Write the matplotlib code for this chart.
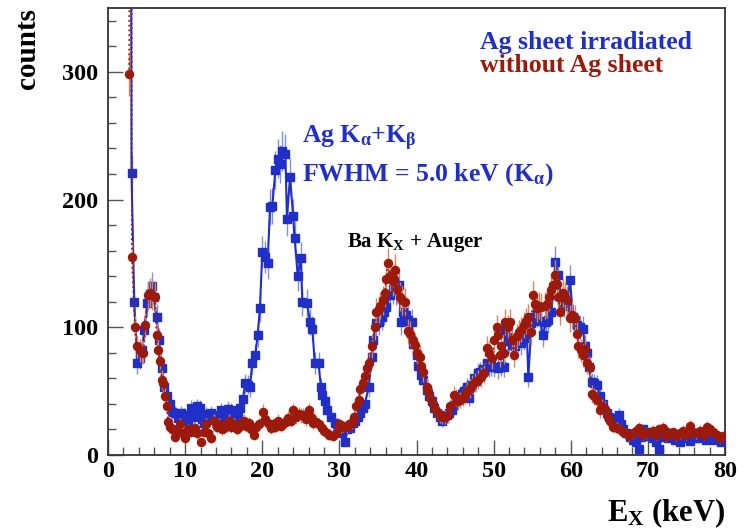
import numpy as np
import matplotlib
matplotlib.use("Agg")
import matplotlib.pyplot as plt
from matplotlib.ticker import MultipleLocator

plt.rcParams['font.family'] = ['Liberation Serif', 'DejaVu Serif']
plt.rcParams['font.weight'] = 'bold'
plt.rcParams['mathtext.fontset'] = 'custom'
plt.rcParams['mathtext.rm'] = 'Liberation Serif:bold'
plt.rcParams['mathtext.it'] = 'Liberation Serif:bold'
plt.rcParams['mathtext.bf'] = 'Liberation Serif:bold'

# ---- data: Ag sheet irradiated (blue) ----
blue_E = [2.9, 3.05, 3.4, 3.8, 4.1, 4.4, 4.7, 5.1, 5.4, 5.7, 5.9, 6.3, 6.6, 7.0, 7.3, 7.7, 8.0, 8.3, 8.7, 9.1,
          9.4, 9.8, 10.1, 10.4, 10.8, 11.1, 11.3, 11.6, 11.9, 12.2, 12.4, 12.7, 13.0, 13.4, 13.7, 14.1, 14.4, 14.7,
          15.0, 15.4, 15.6, 15.9, 16.3, 16.6, 16.9, 17.1, 17.5, 17.8, 18.1, 18.4, 18.7, 19.1, 19.4, 19.7, 20.0,
          20.4, 20.7, 21.0, 21.3, 21.7, 22.0, 22.3, 22.6, 23.0, 23.2, 23.6, 24.0, 24.2, 24.6, 25.0, 25.2, 25.8,
          26.2, 26.5, 26.8, 27.3, 27.6, 27.8, 28.1, 28.4, 28.9, 29.4, 29.7, 30.1, 30.3, 30.7, 31.0, 31.4, 31.7,
          32.0, 32.4, 32.7, 33.0, 33.3, 33.8, 34.2, 34.4, 34.8, 35.1, 35.5, 35.8, 36.1, 36.6, 37.0, 37.4, 37.7,
          38.0, 38.3, 38.6, 38.9, 39.4, 39.6, 40.0, 40.2, 40.6, 40.9, 41.3, 41.6, 42.0, 42.3, 42.6, 43.0, 43.3,
          43.6, 43.9, 44.2, 44.6, 44.9, 45.2, 45.5, 45.9, 46.2, 46.5, 46.8, 47.1, 47.4, 47.7, 48.0, 48.2, 48.6,
          49.1, 49.4, 49.7, 50.1, 50.5, 50.9, 51.3, 51.5, 51.8, 52.0, 52.4, 52.8, 53.2, 53.6, 54.0, 54.3, 54.5,
          54.9, 55.2, 55.6, 56.0, 56.4, 56.8, 57.1, 57.5, 58.0, 58.4, 58.8, 59.1, 59.5, 59.9, 60.3, 60.8, 61.2,
          61.6, 61.8, 62.1, 62.3, 62.7, 63.0, 63.4, 63.8, 64.2, 64.7, 65.0, 65.3, 65.7, 66.2, 66.5, 66.8, 67.2,
          67.7, 68.1, 68.5, 68.8, 69.1, 69.4, 69.8, 70.3, 70.7, 71.0, 71.4, 71.8, 72.2, 72.6, 73.1, 73.5, 73.8,
          74.2, 74.6, 75.0, 75.4, 75.7, 76.1, 76.5, 76.8, 77.1, 77.5, 77.8, 78.2, 78.6, 79.1, 79.5, 79.9]
blue_counts = [900, 221, 120, 72, 76, 82, 98, 119, 126, 132, 124, 108, 90, 68, 53, 46, 40, 34, 33, 29,
               33, 31, 28, 27, 37, 30, 33, 38, 37, 28, 25, 32, 30, 33, 29, 26, 31, 35,
               30, 34, 36, 35, 31, 28, 33, 37, 44, 56, 55, 53, 72, 78, 94, 115, 159,
               155, 150, 194, 195, 223, 232, 228, 238, 236, 185, 218, 187, 170, 140, 154, 120, 119,
               104, 99, 72, 72, 53, 47, 42, 35, 30, 25, 24, 22, 17, 10, 20, 21, 25,
               27, 30, 33, 37, 40, 53, 77, 90, 103, 104, 108, 112, 116, 125, 130, 129, 133,
               104, 112, 110, 106, 104, 87, 78, 70, 63, 59, 51, 46, 42, 37, 33, 30, 27,
               29, 31, 33, 35, 39, 43, 46, 48, 50, 53, 45, 55, 60, 58, 64, 65, 67,
               72, 69, 70, 69, 68, 70, 69, 98, 92, 89, 86, 85, 90, 88, 92, 95, 61,
               103, 108, 111, 105, 94, 104, 106, 112, 151, 141, 120, 119, 117, 137, 108, 102, 100,
               99, 85, 80, 69, 57, 56, 55, 46, 40, 33, 30, 27, 29, 31, 24, 20, 17,
               14, 12, 10, 5, 14, 20, 15, 16, 13, 10, 5, 14, 18, 13, 15, 12, 14,
               10, 13, 14, 11, 13, 16, 13, 14, 15, 12, 14, 15, 12, 13, 10, 12]

# ---- data: without Ag sheet (red) ----
red_E = [2.75, 2.9, 3.1, 3.5, 3.7, 4.1, 4.4, 4.6, 4.8, 5.2, 5.5, 5.7, 6.1, 6.3, 6.5, 6.7, 7.0, 7.1, 7.4, 7.6,
         7.8, 8.1, 8.3, 8.7, 9.0, 9.3, 9.7, 10.0, 10.4, 10.7, 11.0, 11.3, 11.6, 12.1, 12.4, 12.7, 13.0, 13.4,
         13.8, 14.1, 14.4, 14.8, 15.1, 15.4, 15.7, 16.0, 16.3, 16.7, 17.0, 17.3, 17.6, 17.9, 18.3, 18.6, 18.9,
         19.2, 19.6, 20.1, 20.4, 20.8, 21.1, 21.4, 21.7, 22.1, 22.4, 22.7, 23.1, 23.4, 23.7, 24.0, 24.4, 24.7,
         25.0, 25.3, 25.7, 26.0, 26.3, 26.6, 27.0, 27.3, 27.7, 28.0, 28.4, 28.7, 29.2, 29.5, 29.9, 30.2, 30.5,
         31.0, 31.3, 31.6, 31.9, 32.2, 32.5, 32.7, 33.0, 33.3, 33.6, 33.8, 34.2, 34.6, 34.8, 35.1, 35.3, 35.6,
         35.9, 36.1, 36.3, 36.6, 36.9, 37.1, 37.2, 37.5, 37.8, 38.1, 38.5, 38.9, 39.2, 39.5, 39.8, 40.1, 40.4,
         40.6, 40.9, 41.3, 41.5, 41.8, 42.1, 42.4, 42.8, 43.0, 43.3, 43.7, 44.1, 44.4, 44.8, 45.1, 45.4, 45.7,
         46.0, 46.3, 46.6, 46.9, 47.2, 47.6, 48.0, 48.3, 48.7, 49.1, 49.4, 49.8, 50.1, 50.4, 50.6, 50.8, 51.0,
         51.3, 51.5, 51.8, 52.1, 52.4, 52.6, 53.0, 53.3, 53.6, 54.0, 54.2, 54.5, 54.9, 55.1, 55.4, 55.6, 55.9,
         56.2, 56.6, 56.9, 57.2, 57.4, 57.7, 58.0, 58.2, 58.4, 58.6, 59.0, 59.2, 59.5, 59.9, 60.2, 60.5, 60.8,
         61.0, 61.3, 61.6, 61.8, 62.1, 62.5, 62.7, 63.0, 63.4, 63.8, 64.1, 64.5, 64.8, 65.1, 65.5, 66.0, 66.4,
         66.8, 67.2, 67.6, 68.1, 68.5, 68.9, 69.3, 69.8, 70.2, 70.6, 71.0, 71.4, 71.9, 72.3, 72.8, 73.2, 73.7,
         74.2, 74.6, 75.0, 75.5, 75.9, 76.3, 76.8, 77.3, 77.7, 78.1, 78.5, 79.0, 79.4, 79.8]
red_counts = [298, 900, 155, 100, 85, 82, 81, 80, 102, 125, 127, 125, 124, 94, 82, 74, 59, 56, 46, 38,
              26, 22, 20, 14, 20, 24, 17, 13, 20, 18, 19, 21, 17, 10, 18, 24, 17, 13,
              27, 22, 24, 20, 21, 24, 27, 22, 24, 20, 22, 24, 27, 23, 25, 20, 16,
              22, 24, 34, 28, 25, 21, 24, 22, 27, 23, 25, 26, 29, 27, 35, 30, 32,
              31, 31, 28, 35, 30, 25, 26, 24, 21, 19, 17, 16, 15, 17, 24, 22, 23,
              22, 24, 25, 30, 38, 43, 52, 56, 62, 68, 72, 85, 100, 112, 114, 117, 121,
              127, 138, 150, 140, 136, 138, 145, 130, 124, 121, 120, 97, 95, 90, 86, 80, 77,
              70, 65, 53, 50, 45, 40, 36, 33, 31, 30, 30, 31, 38, 47, 45, 42, 43,
              45, 47, 50, 52, 55, 57, 59, 61, 64, 84, 80, 76, 90, 100, 94, 78, 85,
              80, 104, 100, 104, 90, 78, 93, 96, 98, 102, 105, 108, 96, 125, 118, 115, 117,
              116, 117, 118, 124, 129, 133, 141, 134, 124, 112, 127, 124, 121, 107, 110, 107, 95,
              85, 82, 78, 83, 72, 69, 48, 46, 43, 35, 38, 36, 30, 27, 22, 21, 20,
              18, 17, 15, 17, 19, 21, 16, 17, 18, 19, 16, 20, 21, 15, 17, 18, 15,
              17, 19, 16, 23, 18, 17, 19, 16, 22, 20, 18, 16, 13, 15]

x_ticks = [0, 10, 20, 30, 40, 50, 60, 70, 80]
y_ticks = [0, 100, 200, 300]

BLUE = '#1f2fc8'
BLUE_ERR = '#7f8fe6'
RED = '#9c1a0c'
RED_ERR = '#d9855e'

fig = plt.figure(figsize=(7.49, 5.32), dpi=100)
ax = fig.add_axes([0.1442, 0.1447, 0.8238, 0.8403])

bE = np.array(blue_E); bC = np.array(blue_counts, dtype=float)
rE = np.array(red_E); rC = np.array(red_counts, dtype=float)

ax.errorbar(bE, bC, yerr=np.sqrt(bC), fmt='s-', color=BLUE, ecolor=BLUE_ERR, elinewidth=1.0,
            markersize=5.8, lw=1.5, capsize=0, zorder=3)
ax.errorbar(rE, rC, yerr=np.sqrt(rC), fmt='o:', color=RED, ecolor=RED_ERR, elinewidth=1.0,
            markersize=5.8, lw=1.3, capsize=0, zorder=4)

ax.set_xlim(0, 80)
ax.set_ylim(0, 350)
ax.set_xticks(x_ticks)
ax.set_yticks(y_ticks)
ax.xaxis.set_minor_locator(MultipleLocator(2))
ax.yaxis.set_minor_locator(MultipleLocator(20))
ax.tick_params(axis='both', which='major', direction='in', length=11, width=1.0, color='#555555',
               labelsize=17.5)
ax.tick_params(axis='y', which='major', pad=7)
ax.tick_params(axis='x', which='major', pad=4)
ax.tick_params(axis='both', which='minor', direction='in', length=5.5, width=1.0, color='#555555')
ax.tick_params(top=False, right=False, which='both')
for lab in ax.get_xticklabels() + ax.get_yticklabels():
    lab.set_fontweight('bold')
for s in ax.spines.values():
    s.set_linewidth(1.3)
    s.set_color('#333333')

fig.text(0.037, 0.985, 'counts', rotation=90, ha='center', va='top', fontsize=21, fontweight='bold')
fig.text(0.968, 0.003, r'E$_{\mathrm{X}}$ (keV)', ha='right', va='bottom', fontsize=22, fontweight='bold')

ax.text(48.2, 318, 'Ag sheet irradiated', color=BLUE, fontsize=18.5, fontweight='bold', ha='left', va='baseline')
ax.text(48.2, 300, 'without Ag sheet', color=RED, fontsize=18.5, fontweight='bold', ha='left', va='baseline')
ax.text(25.2, 244, r'Ag K$_{\alpha}$+K$_{\beta}$', color=BLUE, fontsize=18.5, fontweight='bold', ha='left', va='baseline')
ax.text(25.2, 215, r'FWHM = 5.0 keV (K$_{\alpha}$)', color=BLUE, fontsize=18.5, fontweight='bold', ha='left', va='baseline')
ax.text(31.0, 163, r'Ba K$_{\mathrm{X}}$ + Auger', color='black', fontsize=15, fontweight='bold', ha='left', va='baseline')

fig.savefig('out.png', dpi=100)
